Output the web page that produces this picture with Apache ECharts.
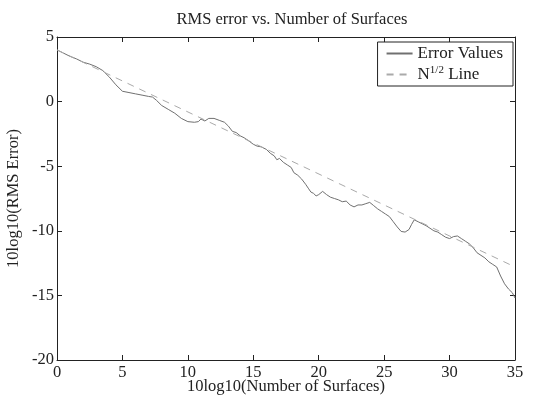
<!DOCTYPE html>
<html><head><meta charset="utf-8">
<script src="https://cdn.jsdelivr.net/npm/echarts@6/dist/echarts.min.js"></script>
<style>html,body{margin:0;padding:0;background:#fff}#c{width:533px;height:396px}</style>
</head><body><div id="c"></div>
<script>
const titleText = 'RMS error vs. Number of Surfaces';
const xName = '10log10(Number of Surfaces)';
const yName = '10log10(RMS Error)';
const xTicks = [0,5,10,15,20,25,30,35];
const yTicks = [-20,-15,-10,-5,0,5];
const errX = [0,0.5,1,1.5,2,2.5,3,3.5,4,4.5,5,5.5,6,6.5,7,7.3,7.6,8,8.5,9,9.5,10,10.5,10.8,11,11.3,11.6,12,12.4,12.8,13.1,13.4,13.7,14,14.3,14.6,15,15.3,15.6,16,16.3,16.6,16.8,17,17.3,17.6,17.9,18.1,18.4,18.7,19,19.2,19.4,19.6,19.8,20,20.3,20.6,20.9,21.2,21.5,21.8,22.1,22.4,22.7,23,23.3,23.6,23.9,24.2,24.5,24.8,25.1,25.4,25.7,26,26.3,26.6,26.9,27.1,27.3,27.6,27.9,28.2,28.5,28.8,29.1,29.4,29.7,30,30.3,30.6,30.9,31.2,31.5,31.8,32.1,32.4,32.7,33,33.3,33.6,33.9,34.2,34.5,34.8,35];
const errY = [4,3.75,3.5,3.3,3.05,2.9,2.7,2.4,1.9,1.3,0.8,0.7,0.6,0.5,0.4,0.35,0.1,-0.3,-0.6,-0.9,-1.3,-1.55,-1.6,-1.55,-1.35,-1.5,-1.3,-1.3,-1.45,-1.6,-1.9,-2.3,-2.4,-2.65,-2.8,-3.0,-3.3,-3.45,-3.5,-3.7,-4.0,-4.2,-4.5,-4.4,-4.7,-4.9,-5.1,-5.5,-5.7,-6.0,-6.4,-6.7,-7.0,-7.1,-7.3,-7.2,-6.95,-7.2,-7.4,-7.5,-7.6,-7.75,-7.7,-8.0,-8.15,-8.0,-8.0,-7.9,-7.8,-8.05,-8.3,-8.5,-8.7,-8.9,-9.3,-9.7,-10.05,-10.1,-9.9,-9.5,-9.15,-9.3,-9.45,-9.6,-9.8,-10.0,-10.1,-10.3,-10.5,-10.6,-10.45,-10.4,-10.6,-10.8,-11.0,-11.3,-11.7,-11.9,-12.1,-12.4,-12.6,-12.8,-13.5,-14.1,-14.5,-14.8,-15.2];
const refX = [0,35];
const refY = [4,-12.8];

const font = 'Liberation Serif';
const chart = echarts.init(document.getElementById('c'));
const axBase = {
  type:'value', axisLine:{show:true,onZero:false,lineStyle:{color:'#222',width:1}},
  axisTick:{show:true,inside:true,length:5,lineStyle:{color:'#222'}},
  splitLine:{show:false}
};
chart.setOption({
  animation:false,
  backgroundColor:'#fff',
  title:{text:titleText,left:287,top:6,textAlign:'center',
    textStyle:{fontFamily:font,fontSize:16.5,fontWeight:'normal',color:'#222'}},
  grid:{left:57,right:18,top:37,bottom:36,containLabel:false,outerBoundsMode:'none'},
  legend:{
    right:20,top:42,orient:'vertical',itemWidth:26,itemHeight:10,itemGap:3,
    padding:[3,10,3,8],borderColor:'#222',borderWidth:1,backgroundColor:'#fff',
    itemStyle:{opacity:0},
    data:['Error Values','N1/2 Line'],
    formatter:function(n){return n==='N1/2 Line'?'{a|N}{s|1/2}{a| Line}':'{a|'+n+'}';},
    textStyle:{fontFamily:font,fontSize:17,color:'#222',
      rich:{a:{fontFamily:font,fontSize:17,color:'#222'},
            s:{fontFamily:font,fontSize:11,color:'#222',verticalAlign:'top',padding:[0,0,8,0]}}}
  },
  xAxis:[
    Object.assign({},axBase,{min:0,max:35,interval:5,position:'bottom',
      name:xName,nameLocation:'middle',nameGap:19,nameMoveOverlap:false,
      nameTextStyle:{fontFamily:font,fontSize:16.5,color:'#222',lineHeight:16},
      axisLabel:{fontFamily:font,fontSize:16.5,color:'#222',margin:4,
        customValues:xTicks}}),
    Object.assign({},axBase,{min:0,max:35,interval:5,position:'top',axisLabel:{show:false}})
  ],
  yAxis:[
    Object.assign({},axBase,{min:-20,max:5,interval:5,position:'left',
      name:yName,nameLocation:'middle',nameGap:35,nameMoveOverlap:false,
      nameTextStyle:{fontFamily:font,fontSize:16.5,color:'#222'},
      axisLabel:{fontFamily:font,fontSize:16.5,color:'#222',margin:3}}),
    Object.assign({},axBase,{min:-20,max:5,interval:5,position:'right',axisLabel:{show:false}})
  ],
  series:[
    {name:'Error Values',type:'line',symbol:'none',
      data:errX.map((x,i)=>[x,errY[i]]),
      lineStyle:{color:'#707070',width:1},itemStyle:{color:'#707070'}},
    {name:'N1/2 Line',type:'line',symbol:'none',
      data:refX.map((x,i)=>[x,refY[i]]),
      lineStyle:{color:'#aaaaaa',width:1,type:[7,6]},itemStyle:{color:'#aaaaaa'}}
  ]
});
</script></body></html>
